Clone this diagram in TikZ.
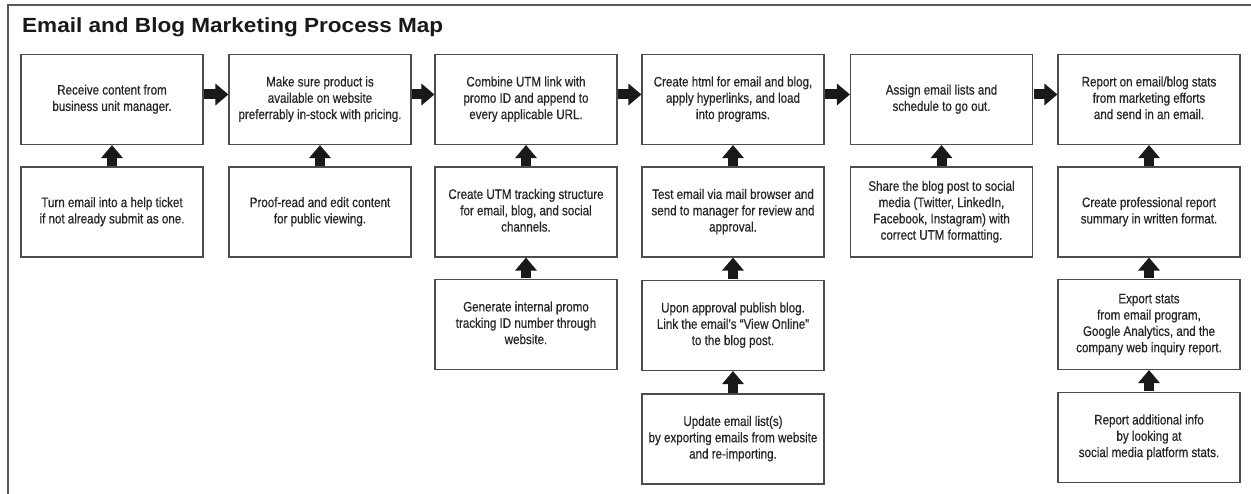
\documentclass[tikz,border=0pt]{standalone}
\usepackage{fontspec}
\setmainfont{Liberation Sans}[FakeStretch=0.84,FakeBold=0.5]
\newfontfamily\titlefont{Liberation Sans}[FakeStretch=1.1]
\usetikzlibrary{arrows.meta}
\begin{document}
\begin{tikzpicture}[x=1pt,y=-1pt,
  itm/.style={draw=black!70,line width=1.1pt,rectangle,fill=white,minimum width=182pt,minimum height=90pt,inner sep=0pt,text=black!85,font={\fontsize{13.8}{16.3}\selectfont}},
  flow/.style={draw=black!90,line width=10pt,-{Triangle[length=13pt,width=21pt]},shorten <=0.5pt}]
\useasboundingbox (0,0) rectangle (1251,494);
\draw[black!65,line width=1.4pt] (1251,5) -- (8,5) -- (8,494);
\node[anchor=base west,inner sep=0pt,font={\titlefont\bfseries\fontsize{20.5}{24}\selectfont},text=black!90] (T) at (22,33) {Email and Blog Marketing Process Map};
% row 1
\node[itm] (A1) at (112,99.5) {\begin{tabular}{c}Receive content from\\business unit manager.\end{tabular}};
\node[itm] (A2) at (320,99.5) {\begin{tabular}{c}Make sure product is\\available on website\\preferrably in-stock with pricing.\end{tabular}};
\node[itm] (A3) at (526,99.5) {\begin{tabular}{c}Combine UTM link with\\promo ID and append to\\every applicable URL.\end{tabular}};
\node[itm] (A4) at (733,99.5) {\begin{tabular}{c}Create html for email and blog,\\apply hyperlinks, and load\\into programs.\end{tabular}};
\node[itm] (A5) at (941.5,99.5) {\begin{tabular}{c}Assign email lists and\\schedule to go out.\end{tabular}};
\node[itm] (A6) at (1149,99.5) {\begin{tabular}{c}Report on email/blog stats\\from marketing efforts\\and send in an email.\end{tabular}};
% row 2
\node[itm] (B1) at (112,212) {\begin{tabular}{c}Turn email into a help ticket\\if not already submit as one.\end{tabular}};
\node[itm] (B2) at (320,212) {\begin{tabular}{c}Proof-read and edit content\\for public viewing.\end{tabular}};
\node[itm] (B3) at (526,212) {\begin{tabular}{c}Create UTM tracking structure\\for email, blog, and social\\channels.\end{tabular}};
\node[itm] (B4) at (733,212) {\begin{tabular}{c}Test email via mail browser and\\send to manager for review and\\approval.\end{tabular}};
\node[itm] (B5) at (941.5,212) {\begin{tabular}{c}Share the blog post to social\\media (Twitter, LinkedIn,\\Facebook, Instagram) with\\correct UTM formatting.\end{tabular}};
\node[itm] (B6) at (1149,212) {\begin{tabular}{c}Create professional report\\summary in written format.\end{tabular}};
% row 3
\node[itm] (C3) at (526,324.5) {\begin{tabular}{c}Generate internal promo\\tracking ID number through\\website.\end{tabular}};
\node[itm] (C4) at (733,325.5) {\begin{tabular}{c}Upon approval publish blog.\\Link the email's ``View Online''\\to the blog post.\end{tabular}};
\node[itm] (C6) at (1149,324.5) {\begin{tabular}{c}Export stats\\from email program,\\Google Analytics, and the\\company web inquiry report.\end{tabular}};
% row 4
\node[itm] (D4) at (733,439) {\begin{tabular}{c}Update email list(s)\\by exporting emails from website\\and re-importing.\end{tabular}};
\node[itm] (D6) at (1149,437.5) {\begin{tabular}{c}Report additional info\\by looking at\\social media platform stats.\end{tabular}};
% arrows
\draw[flow] ([yshift=5pt]A1.east) -- ([yshift=5pt]A2.west);
\draw[flow] ([yshift=5pt]A2.east) -- ([yshift=5pt]A3.west);
\draw[flow] ([yshift=5pt]A3.east) -- ([yshift=5pt]A4.west);
\draw[flow] ([yshift=5pt]A4.east) -- ([yshift=5pt]A5.west);
\draw[flow] ([yshift=5pt]A5.east) -- ([yshift=5pt]A6.west);
\draw[flow] (B1) -- (A1);
\draw[flow] (B2) -- (A2);
\draw[flow] (B3) -- (A3);
\draw[flow] (B4) -- (A4);
\draw[flow] (B5) -- (A5);
\draw[flow] (B6) -- (A6);
\draw[flow] (C3) -- (B3);
\draw[flow] (C4) -- (B4);
\draw[flow] (C6) -- (B6);
\draw[flow] (D4) -- (C4);
\draw[flow] (D6) -- (C6);
\end{tikzpicture}
\end{document}
